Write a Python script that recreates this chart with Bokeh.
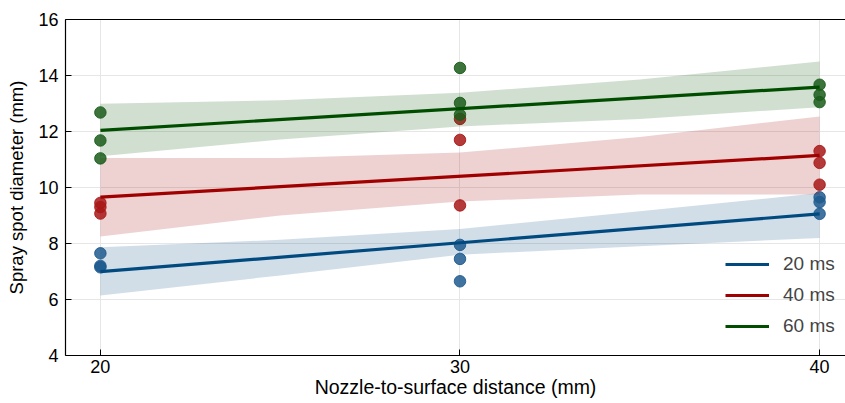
import numpy as np
from bokeh.plotting import figure
from bokeh.models import ColumnDataSource, Legend, LegendItem, LinearAxis, FixedTicker, Range1d
from bokeh.embed import file_html
from bokeh.resources import INLINE

# ---- data ----
distances = [20, 30, 40]
series_names = ["20 ms", "40 ms", "60 ms"]

x_pts = [20, 20, 20, 30, 30, 30, 40, 40, 40]
y_20ms = [7.65, 7.20, 7.15, 7.95, 7.45, 6.65, 9.65, 9.48, 9.06]
y_40ms = [9.45, 9.30, 9.07, 12.45, 11.70, 9.36, 11.30, 10.88, 10.10]
y_60ms = [12.68, 11.68, 11.04, 14.27, 13.02, 12.60, 13.67, 13.31, 13.05]

band_x = [20, 25, 30, 35, 40]
band_hi_20ms = [7.87, 8.13, 8.52, 9.15, 9.80]
band_lo_20ms = [6.14, 6.86, 7.60, 7.90, 8.20]
band_hi_40ms = [11.05, 11.05, 11.25, 11.80, 12.54]
band_lo_40ms = [8.25, 9.00, 9.50, 9.75, 9.75]
band_hi_60ms = [12.99, 13.12, 13.38, 13.86, 14.50]
band_lo_60ms = [11.12, 11.71, 12.18, 12.45, 12.87]

y_ticks = [4, 6, 8, 10, 12, 14, 16]

line_colors = ["#004a80", "#a00000", "#004d00"]
point_colors = ["#1f5a8e", "#a81818", "#1a5c1a"]

FONT = "Liberation Sans"

p = figure(width=845, height=403, output_backend="svg", toolbar_location=None,
           x_range=Range1d(19.03, 40.72), y_range=Range1d(4, 16),
           min_border_left=65, min_border_right=0, min_border_top=19, min_border_bottom=48)
p.outline_line_color = None
p.background_fill_color = "white"

series = [
    (y_20ms, band_lo_20ms, band_hi_20ms),
    (y_40ms, band_lo_40ms, band_hi_40ms),
    (y_60ms, band_lo_60ms, band_hi_60ms),
]

items = []
for (ys, lo, hi), lc, pc, name in zip(series, line_colors, point_colors, series_names):
    p.varea(x=band_x, y1=lo, y2=hi, fill_color=lc, fill_alpha=0.18)
    p.scatter(x=x_pts, y=ys, size=11.5, fill_color=pc, fill_alpha=0.85,
              line_color=pc, line_alpha=0.9, line_width=1)
    slope, icpt = np.polyfit(x_pts, ys, 1)
    fx = [distances[0], distances[-1]]
    fy = [icpt + slope * v for v in fx]
    r = p.line(x=fx, y=fy, line_color=lc, line_width=3.2)
    items.append(LegendItem(label=name, renderers=[r]))

# axes
for ax in [p.xaxis[0], p.yaxis[0]]:
    ax.axis_line_color = "black"
    ax.axis_line_width = 1.2
    ax.major_tick_in = 6
    ax.major_tick_out = 0
    ax.minor_tick_line_color = None
    ax.major_tick_line_color = "black"
    ax.major_label_text_font = FONT
    ax.major_label_text_font_size = "18px"
    ax.major_label_text_color = "black"
    ax.axis_label_text_font = FONT
    ax.axis_label_text_font_style = "normal"
    ax.axis_label_text_color = "black"

p.xaxis.axis_label_text_font_size = "19.5px"
p.yaxis.axis_label_text_font_size = "18.5px"
p.xaxis.ticker = FixedTicker(ticks=distances)
p.yaxis.ticker = FixedTicker(ticks=y_ticks)
p.xaxis.axis_label = "Nozzle-to-surface distance (mm)"
p.yaxis.axis_label = "Spray spot diameter (mm)"
p.xaxis.major_label_standoff = 4
p.yaxis.major_label_standoff = 7
p.xaxis.axis_label_standoff = 0
p.yaxis.axis_label_standoff = 8

top = LinearAxis(major_tick_line_color=None, minor_tick_line_color=None,
                 major_label_text_font_size="0px", axis_line_color="black", axis_line_width=1.2)
top.ticker = FixedTicker(ticks=[])
p.add_layout(top, "above")

p.grid.grid_line_color = "#e6e6e6"
p.grid.grid_line_width = 1
p.xgrid.ticker = FixedTicker(ticks=distances)
p.ygrid.ticker = FixedTicker(ticks=y_ticks)

legend = Legend(items=items, location=(660, 18), border_line_color=None,
                background_fill_alpha=0, padding=0, margin=0,
                glyph_width=44, glyph_height=20, label_height=20, spacing=9,
                label_standoff=14, label_text_font=FONT, label_text_font_size="19px")
p.add_layout(legend, "center")

open("out.html", "w").write(file_html(p, INLINE))
